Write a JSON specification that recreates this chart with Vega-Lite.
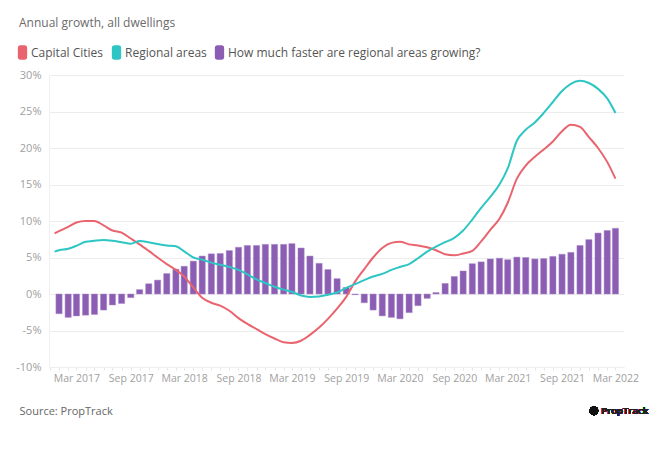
{
  "$schema": "https://vega.github.io/schema/vega-lite/v6.json",
  "autosize": "none",
  "width": 575,
  "height": 292,
  "padding": {"left": 49, "top": 75, "right": 42, "bottom": 82},
  "background": "white",
  "title": {
    "text": "Annual growth, all dwellings",
    "anchor": "start",
    "frame": "group",
    "dx": -30,
    "offset": 6,
    "baseline": "alphabetic",
    "font": "Open Sans",
    "fontSize": 12,
    "fontWeight": "normal",
    "color": "#6b6b6b"
  },
  "config": {
    "view": {"stroke": null},
    "font": "Open Sans",
    "axisY": {"tickCount": 8}
  },
  "data": {
    "values": [
      {"date": "2016-12-17", "cap": 8.3, "reg": 5.8, "diff": null},
      {"date": "2017-01-01", "cap": 8.6, "reg": 6.0, "diff": -2.7},
      {"date": "2017-02-01", "cap": 9.2, "reg": 6.2, "diff": -3.2},
      {"date": "2017-03-01", "cap": 9.8, "reg": 6.6, "diff": -3.0},
      {"date": "2017-04-01", "cap": 10.0, "reg": 7.15, "diff": -2.9},
      {"date": "2017-05-01", "cap": 10.0, "reg": 7.3, "diff": -2.8},
      {"date": "2017-06-01", "cap": 9.4, "reg": 7.4, "diff": -2.2},
      {"date": "2017-07-01", "cap": 8.7, "reg": 7.3, "diff": -1.5},
      {"date": "2017-08-01", "cap": 8.4, "reg": 7.1, "diff": -1.3},
      {"date": "2017-09-01", "cap": 7.6, "reg": 6.9, "diff": -0.5},
      {"date": "2017-10-01", "cap": 6.8, "reg": 7.25, "diff": 0.6},
      {"date": "2017-11-01", "cap": 5.9, "reg": 7.1, "diff": 1.4},
      {"date": "2017-12-01", "cap": 5.0, "reg": 6.85, "diff": 1.9},
      {"date": "2018-01-01", "cap": 4.1, "reg": 6.65, "diff": 2.8},
      {"date": "2018-02-01", "cap": 3.3, "reg": 6.55, "diff": 3.4},
      {"date": "2018-03-01", "cap": 2.4, "reg": 5.85, "diff": 3.8},
      {"date": "2018-04-01", "cap": 0.9, "reg": 5.0, "diff": 4.5},
      {"date": "2018-05-01", "cap": -0.5, "reg": 4.7, "diff": 5.2},
      {"date": "2018-06-01", "cap": -1.2, "reg": 4.3, "diff": 5.5},
      {"date": "2018-07-01", "cap": -1.6, "reg": 4.0, "diff": 5.55},
      {"date": "2018-08-01", "cap": -2.3, "reg": 3.7, "diff": 5.95},
      {"date": "2018-09-01", "cap": -3.3, "reg": 3.3, "diff": 6.4},
      {"date": "2018-10-01", "cap": -4.1, "reg": 2.7, "diff": 6.65},
      {"date": "2018-11-01", "cap": -4.8, "reg": 2.0, "diff": 6.65},
      {"date": "2018-12-01", "cap": -5.5, "reg": 1.5, "diff": 6.8},
      {"date": "2019-01-01", "cap": -6.1, "reg": 1.0, "diff": 6.8},
      {"date": "2019-02-01", "cap": -6.6, "reg": 0.6, "diff": 6.8},
      {"date": "2019-03-01", "cap": -6.7, "reg": 0.3, "diff": 6.9},
      {"date": "2019-04-01", "cap": -6.4, "reg": -0.2, "diff": 6.3},
      {"date": "2019-05-01", "cap": -5.6, "reg": -0.4, "diff": 5.2},
      {"date": "2019-06-01", "cap": -4.6, "reg": -0.35, "diff": 4.2},
      {"date": "2019-07-01", "cap": -3.4, "reg": -0.1, "diff": 3.35},
      {"date": "2019-08-01", "cap": -2.0, "reg": 0.2, "diff": 2.1},
      {"date": "2019-09-01", "cap": -0.4, "reg": 0.85, "diff": 0.9},
      {"date": "2019-10-01", "cap": 1.7, "reg": 1.35, "diff": -0.1},
      {"date": "2019-11-01", "cap": 3.4, "reg": 1.9, "diff": -1.2},
      {"date": "2019-12-01", "cap": 5.0, "reg": 2.4, "diff": -2.2},
      {"date": "2020-01-01", "cap": 6.3, "reg": 2.75, "diff": -3.0},
      {"date": "2020-02-01", "cap": 7.0, "reg": 3.3, "diff": -3.2},
      {"date": "2020-03-01", "cap": 7.15, "reg": 3.7, "diff": -3.4},
      {"date": "2020-04-01", "cap": 6.8, "reg": 4.1, "diff": -2.55},
      {"date": "2020-05-01", "cap": 6.65, "reg": 4.9, "diff": -1.6},
      {"date": "2020-06-01", "cap": 6.4, "reg": 5.8, "diff": -0.6},
      {"date": "2020-07-01", "cap": 6.0, "reg": 6.5, "diff": 0.2},
      {"date": "2020-08-01", "cap": 5.45, "reg": 7.1, "diff": 1.45},
      {"date": "2020-09-01", "cap": 5.3, "reg": 7.7, "diff": 2.4},
      {"date": "2020-10-01", "cap": 5.55, "reg": 8.7, "diff": 3.15},
      {"date": "2020-11-01", "cap": 5.9, "reg": 10.2, "diff": 4.15},
      {"date": "2020-12-01", "cap": 7.2, "reg": 11.8, "diff": 4.4},
      {"date": "2021-01-01", "cap": 8.8, "reg": 13.3, "diff": 4.8},
      {"date": "2021-02-01", "cap": 10.3, "reg": 15.0, "diff": 4.9},
      {"date": "2021-03-01", "cap": 12.5, "reg": 17.2, "diff": 4.7},
      {"date": "2021-04-01", "cap": 15.8, "reg": 21.0, "diff": 5.05},
      {"date": "2021-05-01", "cap": 17.6, "reg": 22.5, "diff": 5.0},
      {"date": "2021-06-01", "cap": 18.8, "reg": 23.5, "diff": 4.8},
      {"date": "2021-07-01", "cap": 19.8, "reg": 24.8, "diff": 4.85},
      {"date": "2021-08-01", "cap": 20.9, "reg": 26.3, "diff": 5.15},
      {"date": "2021-09-01", "cap": 22.3, "reg": 27.8, "diff": 5.45},
      {"date": "2021-10-01", "cap": 23.2, "reg": 28.8, "diff": 5.7},
      {"date": "2021-11-01", "cap": 22.9, "reg": 29.2, "diff": 6.65},
      {"date": "2021-12-01", "cap": 21.5, "reg": 28.9, "diff": 7.45},
      {"date": "2022-01-01", "cap": 20.0, "reg": 28.1, "diff": 8.35},
      {"date": "2022-02-01", "cap": 18.1, "reg": 26.8, "diff": 8.7},
      {"date": "2022-03-01", "cap": 15.8, "reg": 24.8, "diff": 9.0}
    ]
  },
  "encoding": {
    "x": {
      "field": "date",
      "type": "temporal",
      "scale": {
        "type": "utc",
        "domain": [
          {"year": 2016, "month": 12, "date": 15, "utc": true},
          {"year": 2022, "month": 3, "date": 13, "utc": true}
        ]
      },
      "axis": {
        "title": "Source: PropTrack",
        "titleAnchor": "start",
        "titleAlign": "left",
        "titleX": -30,
        "titleY": 44,
        "titleBaseline": "middle",
        "titleFont": "Open Sans",
        "titleFontSize": 11,
        "titleFontWeight": "normal",
        "titleColor": "#666666",
        "tickCount": {"interval": "month", "step": 1},
        "labelExpr": "(utcmonth(datum.value) == 2 || utcmonth(datum.value) == 8) ? utcFormat(datum.value, '%b %Y') : ''",
        "labelOverlap": false,
        "labelFont": "Open Sans",
        "labelFontSize": 10.5,
        "labelColor": "#a0a0a0",
        "labelPadding": 3,
        "tickSize": 3,
        "tickColor": "#e6e6e6",
        "domainColor": "#eeeeee",
        "grid": false
      }
    }
  },
  "layer": [
    {
      "mark": {"type": "bar", "width": 6.2, "fill": "#8b5db3", "stroke": "#a98bc9", "strokeWidth": 0.5},
      "encoding": {
        "y": {
          "field": "diff",
          "type": "quantitative",
          "scale": {"domain": [-10, 30], "nice": false},
          "axis": {
            "tickCount": 8,
            "labelExpr": "datum.value + '%'",
            "labelOverlap": false,
            "title": null,
            "ticks": false,
            "labelPadding": 8,
            "labelFont": "Open Sans",
            "labelFontSize": 11,
            "labelColor": "#a0a0a0",
            "gridColor": "#ededed",
            "domainColor": "#f0f0f0"
          }
        },
        "color": {"datum": "diff", "type": "nominal"}
      }
    },
    {
      "transform": [{"fold": ["cap", "reg"], "as": ["series", "value"]}],
      "mark": {"type": "line", "interpolate": "monotone", "strokeWidth": 2},
      "encoding": {
        "y": {
          "field": "value",
          "type": "quantitative",
          "axis": {
            "tickCount": 8,
            "labelExpr": "datum.value + '%'",
            "labelOverlap": false,
            "title": null,
            "ticks": false,
            "labelPadding": 8,
            "labelFont": "Open Sans",
            "labelFontSize": 11,
            "labelColor": "#a0a0a0",
            "gridColor": "#ededed",
            "domainColor": "#f0f0f0"
          }
        },
        "color": {
          "field": "series",
          "type": "nominal",
          "scale": {"domain": ["cap", "reg", "diff"], "range": ["#e9646e", "#2dc6c4", "#8b5db3"]},
          "legend": {
            "orient": "none",
            "legendX": -34,
            "legendY": -30,
            "direction": "horizontal",
            "title": null,
            "symbolType": "M-0.3,-1 L0.3,-1 Q0.6,-1 0.6,-0.7 L0.6,0.7 Q0.6,1 0.3,1 L-0.3,1 Q-0.6,1 -0.6,0.7 L-0.6,-0.7 Q-0.6,-1 -0.3,-1 Z",
            "symbolSize": 169,
            "labelOffset": 1,
            "columnPadding": 5,
            "labelLimit": 400,
            "labelFont": "Open Sans",
            "labelFontSize": 12,
            "labelColor": "#555555",
            "labelExpr": "datum.label == 'cap' ? 'Capital Cities' : datum.label == 'reg' ? 'Regional areas' : 'How much faster are regional areas growing?'",
            "encode": {
              "symbols": {
                "update": {
                  "fill": {"scale": "color", "field": "value"},
                  "stroke": {"value": "transparent"},
                  "opacity": {"value": 1}
                }
              }
            }
          }
        }
      }
    },
    {
      "mark": {"type": "point", "filled": true, "size": 75, "color": "#111111", "opacity": 1},
      "encoding": {
        "x": {"datum": {"year": 2021, "month": 12, "date": 18, "utc": true}},
        "y": {"datum": -16}
      }
    },
    {
      "mark": {"type": "text", "align": "left", "baseline": "middle", "font": "Open Sans", "fontSize": 9.5, "fontWeight": 600, "color": "#222222", "text": "PropTrack"},
      "encoding": {
        "x": {"datum": {"year": 2022, "month": 1, "date": 12, "utc": true}},
        "y": {"datum": -16}
      }
    }
  ]
}
